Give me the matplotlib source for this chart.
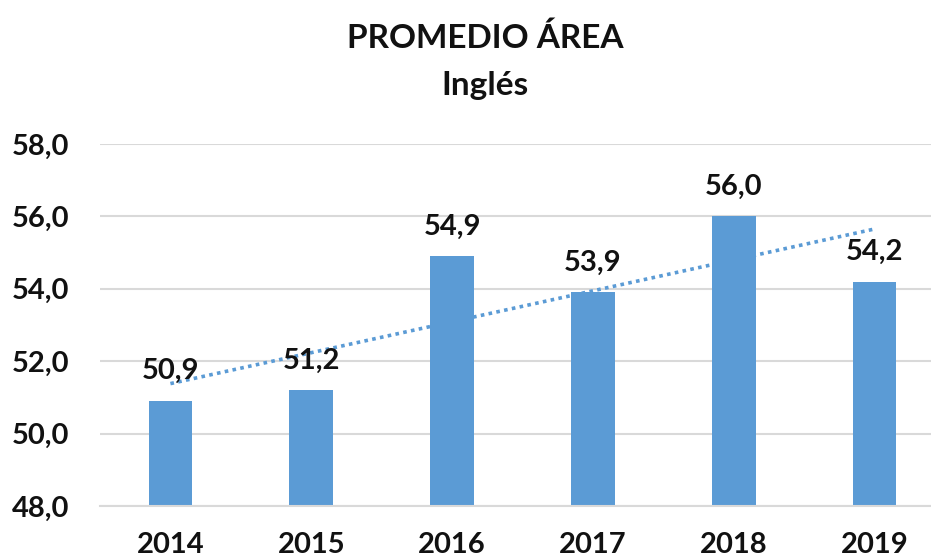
import matplotlib.pyplot as plt
import numpy as np

years = ['2014', '2015', '2016', '2017', '2018', '2019']
values = [50.9, 51.2, 54.9, 53.9, 56.0, 54.2]
y_ticks = [48, 50, 52, 54, 56, 58]

plt.rcParams['font.family'] = ['Lato', 'DejaVu Sans']
plt.rcParams['font.weight'] = 'bold'

blue = '#5B9BD5'
grid = '#D9D9D9'
txt = '#111111'

fig = plt.figure(figsize=(9.31, 5.59), dpi=100)
ax = fig.add_axes([100 / 931, 53 / 559, 845 / 931, 362 / 559])

x = np.arange(len(years))
ax.bar(x, values, width=0.31, color=blue, zorder=2)

# linear trend line, like excel
k, b = np.polyfit(x, values, 1)
ax.plot(x, k * x + b, linestyle=(0, (1, 1.2)), color=blue, lw=2.6, zorder=3)

for xi, v in zip(x, values):
    ax.annotate('{:.1f}'.format(v).replace('.', ','), (xi, v), xytext=(0, 12),
                textcoords='offset points', ha='center', va='bottom',
                fontsize=21, fontweight='bold', color=txt, zorder=4)

ax.set_xlim(-0.5, len(years) - 0.5)
ax.set_ylim(48, 58)
ax.set_xticks(x)
ax.set_xticklabels(years)
ax.set_yticks(y_ticks)
ax.set_yticklabels(['{:.1f}'.format(t).replace('.', ',') for t in y_ticks])
ax.tick_params(axis='both', length=0, labelsize=21, colors=txt)
ax.tick_params(axis='x', pad=19)
ax.tick_params(axis='y', pad=22)

ax.grid(axis='y', color=grid, lw=1.5, zorder=0)
for s in ['top', 'right', 'left']:
    ax.spines[s].set_visible(False)
ax.spines['bottom'].set_color(grid)
ax.spines['bottom'].set_linewidth(1.5)

fig.text(485 / 931, 1 - 38 / 559, 'PROMEDIO ÁREA', ha='center', va='center',
         fontsize=24, fontweight='bold', color=txt)
fig.text(485 / 931, 1 - 85 / 559, 'Inglés', ha='center', va='center',
         fontsize=24, fontweight='bold', color=txt)

fig.savefig('out.png', dpi=100)
